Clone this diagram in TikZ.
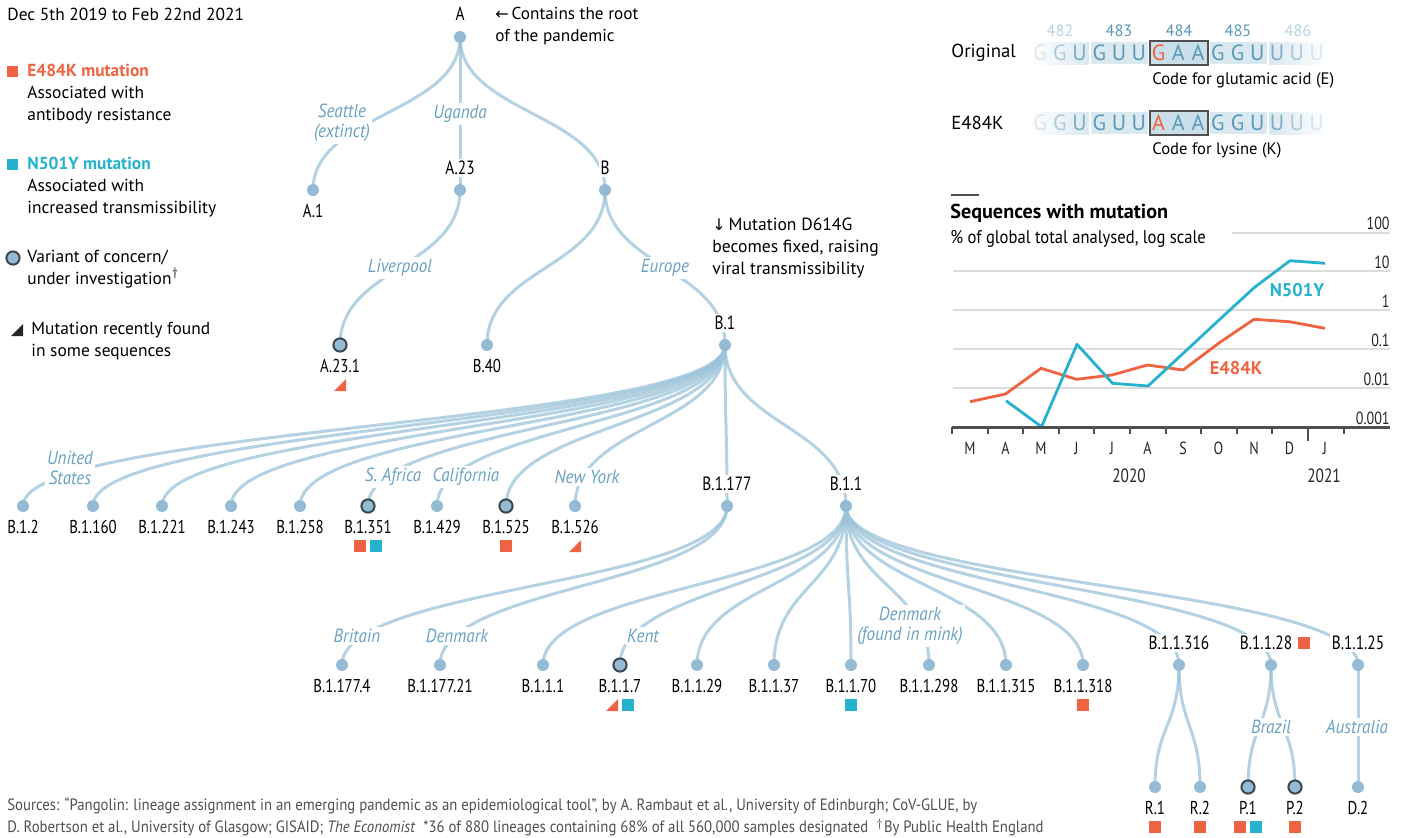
\documentclass[tikz,border=0pt]{standalone}
\usepackage{fontspec}
\setmainfont{PT Sans}
\newfontfamily\condf{PT Sans}[FakeStretch=0.8]
\newfontfamily\locf{PT Sans}[FakeStretch=0.9]
\newfontfamily\footf{PT Sans}[FakeStretch=0.9]
\newfontfamily\symf{DejaVu Sans}
\usetikzlibrary{calc}
\pgfdeclarelayer{bg}
\pgfsetlayers{bg,main}
\definecolor{edgec}{HTML}{9CC3D9}
\definecolor{dotc}{HTML}{94BBD3}
\definecolor{ringc}{HTML}{3C4750}
\definecolor{locc}{HTML}{6AA2C3}
\definecolor{orng}{HTML}{EE6341}
\definecolor{cyn}{HTML}{26B2CE}
\definecolor{seqc}{HTML}{5A98B9}
\definecolor{numl}{HTML}{B9D4E3}
\definecolor{gridc}{HTML}{DCDCDC}
\definecolor{axc}{HTML}{505050}
\definecolor{stripc}{HTML}{DAE8F0}
\definecolor{boxc}{HTML}{CBDFEA}
\definecolor{footc}{HTML}{505050}
\tikzset{
 tdot/.style={circle, fill=dotc, minimum size=6pt, inner sep=0pt},
 voc/.style={circle, fill=dotc, draw=ringc, line width=1pt, minimum size=6.6pt, inner sep=0pt},
 link/.style={to path={let \p1=(\tikztostart), \p2=(\tikztotarget) in .. controls (\x1,{0.5*(\y1+\y2)}) and (\x2,{0.5*(\y1+\y2)}) .. (\tikztotarget)}},
 lnkline/.style={draw=edgec, line width=1.5pt, draw opacity=0.75},
 inl/.style={font=\condf\fontsize{9.6}{11}\selectfont, fill=white, inner sep=1pt},
 leaf/.style={font=\condf\fontsize{9.3}{10}\selectfont, inner sep=1pt},
 loc/.style={font=\locf\itshape\fontsize{9.5}{10.2}\selectfont, text=locc, fill=white, inner sep=1pt, align=center},
 txt/.style={font=\fontsize{8.7}{11.2}\selectfont, align=left, inner sep=0pt},
 seq/.style={font=\fontsize{11}{12}\selectfont, inner sep=0pt},
 tick/.style={font=\condf\fontsize{8.8}{10}\selectfont, inner sep=0pt, text=black!85},
}
\begin{document}
\begin{tikzpicture}[x=0.5pt,y=-0.5pt]
\useasboundingbox (0,0) rectangle (1402,837);
\begin{pgfonlayer}{bg}
\fill[white] (0,0) rectangle (1402,837);
\end{pgfonlayer}

% ---------------- legend ----------------
\node[txt, anchor=west] (date) at (7,14) {Dec 5th 2019 to Feb 22nd 2021};
\fill[orng] (7,66) rectangle ++(11,11);
\node[txt, anchor=west] (legE) at (27,94) {{\bfseries\color{orng}E484K mutation}\\Associated with\\antibody resistance};
\fill[cyn] (7,159) rectangle ++(11,11);
\node[txt, anchor=west] (legN) at (27,187) {{\bfseries\color{cyn}N501Y mutation}\\Associated with\\increased transmissibility};
\node[voc] (legV) at (13,258) {};
\node[txt, anchor=west] (legVt) at (27,269) {Variant of concern/\\under investigation$^\dagger$};
\fill[black!85] (11,336) -- (23,336) -- (23,324) -- cycle;
\node[txt, anchor=west] (legT) at (31,341) {Mutation recently found\\in some sequences};

% ---------------- tree nodes ----------------
\node[tdot] (A) at (460,37) {};
\node[tdot] (A1) at (313,190) {};
\node[tdot] (A23) at (460,190) {};
\node[tdot] (B) at (605,190) {};
\node[voc] (A231) at (340,345) {};
\node[tdot] (B40) at (487,345) {};
\node[tdot] (B1) at (725,345) {};
\node[tdot] (B12) at (23,506) {};
\node[tdot] (B1160) at (93,506) {};
\node[tdot] (B1221) at (162,506) {};
\node[tdot] (B1243) at (231,506) {};
\node[tdot] (B1258) at (300,506) {};
\node[voc] (B1351) at (368,506) {};
\node[tdot] (B1429) at (437,506) {};
\node[voc] (B1525) at (506,506) {};
\node[tdot] (B1526) at (575,506) {};
\node[tdot] (B1177) at (727,506) {};
\node[tdot] (B11) at (846,506) {};
\node[tdot] (B11774) at (342,665) {};
\node[tdot] (B117721) at (440,665) {};
\node[tdot] (B111) at (543,665) {};
\node[voc] (B117) at (620,665) {};
\node[tdot] (B1129) at (697,665) {};
\node[tdot] (B1137) at (774,665) {};
\node[tdot] (B1170) at (851,665) {};
\node[tdot] (B11298) at (929,665) {};
\node[tdot] (B11315) at (1006,665) {};
\node[tdot] (B11318) at (1083,665) {};
\node[tdot] (B11316) at (1179,665) {};
\node[tdot] (B1128) at (1271,665) {};
\node[tdot] (B1125) at (1358,665) {};
\node[tdot] (R1) at (1155,787) {};
\node[tdot] (R2) at (1200,787) {};
\node[voc] (P1) at (1248,787) {};
\node[voc] (P2) at (1295,787) {};
\node[tdot] (D2) at (1358,787) {};

% ---------------- edges ----------------
\begin{pgfonlayer}{bg}
\foreach \s/\t in {A/A1, A/A23, A/B, A23/A231, B/B40, B/B1, B1177/B11774, B1177/B117721, B11316/R1, B11316/R2, B1128/P1, B1128/P2, B1125/D2}
  \draw[lnkline] (\s.center) to[link] (\t.center);
\foreach \t in {B12,B1160,B1221,B1243,B1258,B1351,B1429,B1525,B1526,B1177,B11}
  \draw[lnkline] (B1.center) to[link] (\t.center);
\foreach \t in {B111,B117,B1129,B1137,B1170,B11298,B11315,B11318,B11316,B1128,B1125}
  \draw[lnkline] (B11.center) to[link] (\t.center);
\end{pgfonlayer}

% ---------------- internal labels ----------------
\node[inl] (lA) at (460,14) {A};
\node[inl] (lA23) at (460,168) {A.23};
\node[inl] (lB) at (605,168) {B};
\node[inl] (lB1) at (725,323) {B.1};
\node[inl] (lB1177) at (727,484) {B.1.177};
\node[inl] (lB11) at (846,484) {B.1.1};
\node[inl] (lB11316) at (1179,643) {B.1.1.316};
\node[inl] (lB1128) at (1266,643) {B.1.1.28};
\node[inl] (lB1125) at (1358,643) {B.1.1.25};

% ---------------- leaf labels ----------------
\node[leaf] (tA1) at (313,211) {A.1};
\node[leaf] (tA231) at (340,366) {A.23.1};
\node[leaf] (tB40) at (487,366) {B.40};
\foreach \n/\x/\l in {B12/23/B.1.2, B1160/93/B.1.160, B1221/162/B.1.221, B1243/231/B.1.243, B1258/300/B.1.258, B1351/368/B.1.351, B1429/437/B.1.429, B1525/506/B.1.525, B1526/575/B.1.526}
  \node[leaf] (t\n) at (\x,527) {\l};
\foreach \n/\x/\l in {B11774/342/B.1.177.4, B117721/440/B.1.177.21, B111/543/B.1.1.1, B117/620/B.1.1.7, B1129/697/B.1.1.29, B1137/774/B.1.1.37, B1170/851/B.1.1.70, B11298/929/B.1.1.298, B11315/1006/B.1.1.315, B11318/1083/B.1.1.318}
  \node[leaf] (t\n) at (\x,686) {\l};
\foreach \n/\x/\l in {R1/1155/R.1, R2/1200/R.2, P1/1248/P.1, P2/1295/P.2, D2/1358/D.2}
  \node[leaf] (t\n) at (\x,808) {\l};

% ---------------- location labels ----------------
\node[loc] (cSea) at (342,123) {Seattle\\(extinct)};
\node[loc] (cUga) at (460,114) {Uganda};
\node[loc] (cLiv) at (400,268) {Liverpool};
\node[loc] (cEur) at (665,268) {Europe};
\node[loc] (cUS) at (70,468) {United\\States};
\node[loc] (cSA) at (393,477) {S. Africa};
\node[loc] (cCal) at (466,477) {California};
\node[loc] (cNY) at (587,477) {New York};
\node[loc] (cBri) at (357,636) {Britain};
\node[loc] (cDen) at (457,636) {Denmark};
\node[loc] (cKent) at (643,636) {Kent};
\node[loc] (cMink) at (910,626) {Denmark\\(found in mink)};
\node[loc] (cBra) at (1271,727) {Brazil};
\node[loc] (cAus) at (1357,727) {Australia};

% ---------------- mutation marks ----------------
\fill[orng] (334,391) -- (346,391) -- (346,379) -- cycle;
\fill[orng] (354,540) rectangle ++(12,12);
\fill[cyn] (370,540) rectangle ++(12,12);
\fill[orng] (500,540) rectangle ++(12,12);
\fill[orng] (569,552) -- (581,552) -- (581,540) -- cycle;
\fill[orng] (606,711) -- (618,711) -- (618,699) -- cycle;
\fill[cyn] (622,699) rectangle ++(12,12);
\fill[cyn] (845,699) rectangle ++(12,12);
\fill[orng] (1077,699) rectangle ++(12,12);
\fill[orng] (1298,637) rectangle ++(12,12);
\fill[orng] (1149,821) rectangle ++(12,12);
\fill[orng] (1194,821) rectangle ++(12,12);
\fill[orng] (1234,821) rectangle ++(12,12);
\fill[cyn] (1250,821) rectangle ++(12,12);
\fill[orng] (1289,821) rectangle ++(12,12);

% ---------------- annotations ----------------
\node[txt, anchor=west, font=\fontsize{8.6}{10.9}\selectfont] (rootnote) at (495,26) {{\symf\fontsize{8}{10}\selectfont ←}\,Contains the root\\of the pandemic};
\node[txt, anchor=west, font=\fontsize{8.8}{10.8}\selectfont] (d614) at (712,248) {{\symf\fontsize{8}{10}\selectfont ↓}\,Mutation D614G\\becomes fixed, raising\\viral transmissibility};

% ---------------- sequence panel ----------------
\shade[left color=white, right color=stripc] (1030,42) rectangle (1089,64);
\fill[stripc] (1091,42) rectangle (1148,64);
\fill[stripc] (1210,42) rectangle (1267,64);
\shade[left color=stripc, right color=white] (1269,42) rectangle (1328,64);
\draw[axc, line width=1pt, fill=boxc] (1150,41) rectangle (1208,65);
\shade[left color=white, right color=stripc] (1030,112) rectangle (1089,134);
\fill[stripc] (1091,112) rectangle (1148,134);
\fill[stripc] (1210,112) rectangle (1267,134);
\shade[left color=stripc, right color=white] (1269,112) rectangle (1328,134);
\draw[axc, line width=1pt, fill=boxc] (1150,111) rectangle (1208,135);
\foreach \num/\x/\c in {482/1060/numl, 483/1119/seqc, 484/1179/seqc, 485/1238/seqc, 486/1298/numl}
  \node[font=\fontsize{8.2}{10}\selectfont, text=\c, inner sep=0pt] (n\num) at (\x,31) {\num};
\foreach \c/\o/\k [count=\i from 0] in {G/0.2/seqc, G/0.45/seqc, U/0.75/seqc, G/1/seqc, U/1/seqc, U/1/seqc, G/1/orng, A/1/seqc, A/1/seqc, G/1/seqc, G/1/seqc, U/1/seqc, U/0.75/seqc, U/0.45/seqc, U/0.2/seqc}
  \node[seq, text=\k, text opacity=\o] (o\i) at ({1040+19.75*\i},53) {\c};
\foreach \c/\o/\k [count=\i from 0] in {G/0.2/seqc, G/0.45/seqc, U/0.75/seqc, G/1/seqc, U/1/seqc, U/1/seqc, A/1/orng, A/1/seqc, A/1/seqc, G/1/seqc, G/1/seqc, U/1/seqc, U/0.75/seqc, U/0.45/seqc, U/0.2/seqc}
  \node[seq, text=\k, text opacity=\o] (m\i) at ({1040+19.75*\i},123) {\c};
\node[txt, anchor=west, font=\fontsize{9.4}{11}\selectfont] (orig) at (951,53) {Original};
\node[txt, anchor=west, font=\fontsize{9.4}{11}\selectfont] (mut) at (951,123) {E484K};
\node[txt, anchor=west, font=\fontsize{8.3}{10}\selectfont] (glu) at (1152,80) {Code for glutamic acid (E)};
\node[txt, anchor=west, font=\fontsize{8.3}{10}\selectfont] (lys) at (1152,150) {Code for lysine (K)};

% ---------------- chart ----------------
\draw[axc, line width=1.4pt] (951,195) -- (979,195);
\node[txt, anchor=west, font=\bfseries\fontsize{10.1}{12}\selectfont] (ctitle) at (950,213) {Sequences with mutation};
\node[txt, anchor=west, font=\locf\fontsize{9.2}{11}\selectfont] (csub) at (950,239) {\% of global total analysed, log scale};
\draw[gridc, line width=1pt] (1232,232.5) -- (1390,232.5);
\foreach \y in {271.4,310.3,349.2,388.1}
  \draw[gridc, line width=1pt] (953,\y) -- (1390,\y);
\foreach \v/\y in {100/232.5, 10/271.4, 1/310.3, 0.1/349.2, 0.01/388.1, 0.001/427}
  \node[tick, anchor=base east] (y\v) at (1390,{\y-3}) {\v};
\draw[orng, line width=1.4pt, line join=round] (970,401.7) -- (1005.5,394) -- (1041,368.3) -- (1076.5,379.3) -- (1112,375) -- (1147.5,365) -- (1183,370) -- (1218.5,343.3) -- (1254,319.3) -- (1289.5,321.7) -- (1325,328.3);
\draw[cyn, line width=1.4pt, line join=round] (1006,400.7) -- (1041.5,426.7) -- (1077,344.3) -- (1112.5,383.3) -- (1148,386) -- (1183.5,353) -- (1219,320) -- (1254.5,287.3) -- (1290,260.7) -- (1325,263.3);
\draw[axc, line width=1.5pt] (952,427) -- (1390,427);
\foreach \k in {0,...,11}
  \draw[axc, line width=1pt] ({952+35.6*\k},427) -- ({952+35.6*\k},434);
\draw[axc, line width=1pt] (1308,427) -- (1308,441);
\foreach \m [count=\k from 0] in {M,A,M,J,J,A,S,O,N,D,J}
  \node[tick] (mo\k) at ({970+35.5*\k},448) {\m};
\node[tick, font=\condf\fontsize{9.6}{11}\selectfont] (yr20) at (1129,476) {2020};
\node[tick, font=\condf\fontsize{9.6}{11}\selectfont] (yr21) at (1324,476) {2021};
\node[font=\bfseries\fontsize{9.2}{11}\selectfont, text=cyn, inner sep=0pt] (lN) at (1297,290) {N501Y};
\node[font=\bfseries\fontsize{9.2}{11}\selectfont, text=orng, inner sep=0pt] (lE) at (1236,368) {E484K};

% ---------------- footer ----------------
\node[txt, anchor=west, text=footc, font=\footf\fontsize{8.2}{11}\selectfont] (foot) at (7,817) {Sources: “Pangolin: lineage assignment in an emerging pandemic as an epidemiological tool”, by A. Rambaut et al., University of Edinburgh; CoV-GLUE, by\\D. Robertson et al., University of Glasgow; GISAID; \textit{The Economist}\ \ *36 of 880 lineages containing 68\% of all 560,000 samples designated\ \ $^\dagger$By Public Health England};
\end{tikzpicture}
\end{document}
